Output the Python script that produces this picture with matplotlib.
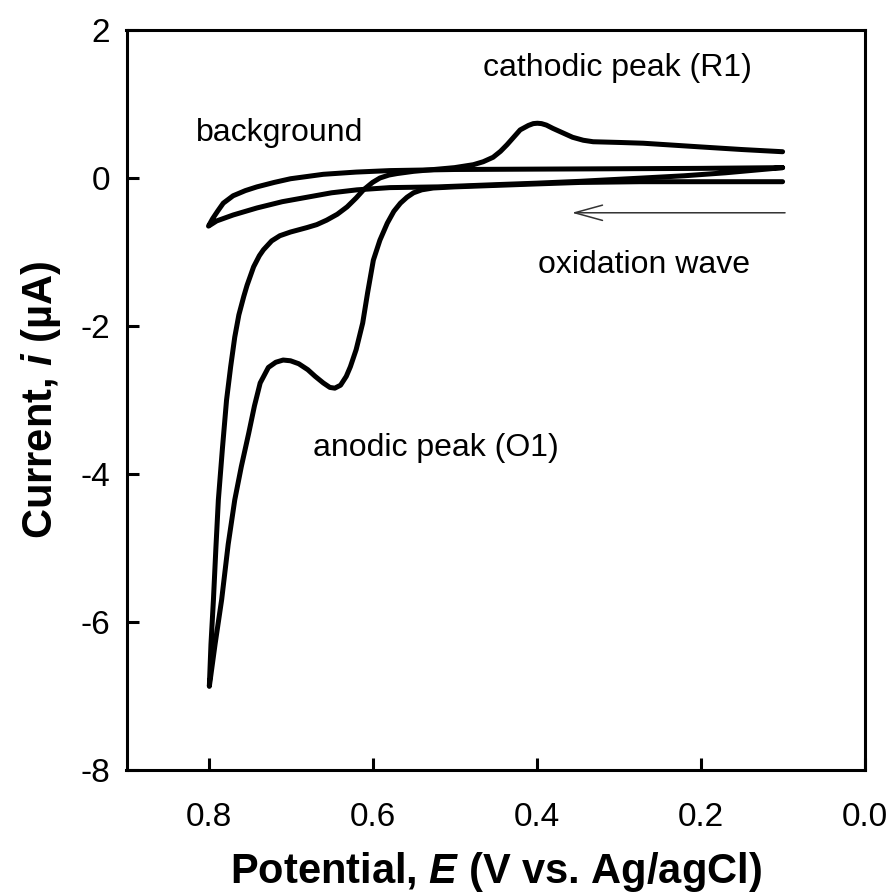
import matplotlib
matplotlib.use("Agg")
import matplotlib.pyplot as plt

plt.rcParams['font.family'] = ['Liberation Sans', 'DejaVu Sans']
plt.rcParams['mathtext.fontset'] = 'custom'
plt.rcParams['mathtext.it'] = 'Liberation Sans:italic:bold'
plt.rcParams['mathtext.rm'] = 'Liberation Sans:bold'
plt.rcParams['mathtext.bf'] = 'Liberation Sans:bold'

# ---- data ----
# main CV, forward (anodic) scan 0.1 -> 0.8 V
fwd_E = [0.10, 0.20, 0.274, 0.347, 0.40, 0.45, 0.50, 0.526, 0.540, 0.550, 0.558,
         0.566, 0.574, 0.582, 0.591, 0.599, 0.606, 0.612, 0.620, 0.627, 0.632,
         0.639, 0.646, 0.652, 0.660, 0.670, 0.679, 0.690, 0.700, 0.709, 0.718,
         0.727, 0.737, 0.744, 0.751, 0.760, 0.768, 0.776, 0.784, 0.792, 0.799]
fwd_i = [-0.05, -0.05, -0.05, -0.06, -0.08, -0.10, -0.12, -0.135, -0.16, -0.20, -0.26,
         -0.34, -0.45, -0.61, -0.84, -1.11, -1.55, -1.96, -2.32, -2.55, -2.68,
         -2.80, -2.84, -2.83, -2.77, -2.68, -2.59, -2.51, -2.47, -2.46, -2.49,
         -2.56, -2.77, -3.08, -3.45, -3.90, -4.35, -4.95, -5.70, -6.30, -6.87]

# main CV, reverse (cathodic) scan 0.8 -> 0.1 V
rev_E = [0.799, 0.797, 0.794, 0.791, 0.788, 0.783, 0.778, 0.773, 0.768, 0.763,
         0.757, 0.753, 0.745, 0.738, 0.733, 0.723, 0.713, 0.700, 0.690, 0.680,
         0.668, 0.656, 0.643, 0.631, 0.620, 0.611, 0.600, 0.591, 0.580, 0.570,
         0.550, 0.520, 0.500, 0.477, 0.465, 0.453, 0.444, 0.436, 0.428, 0.420,
         0.410, 0.404, 0.399, 0.394, 0.388, 0.380, 0.368, 0.356, 0.343, 0.331,
         0.298, 0.270, 0.200, 0.150, 0.100]
rev_i = [-6.87, -6.30, -5.70, -5.00, -4.35, -3.65, -3.00, -2.55, -2.15, -1.85,
         -1.60, -1.45, -1.20, -1.05, -0.97, -0.85, -0.78, -0.73, -0.70, -0.67,
         -0.63, -0.57, -0.49, -0.39, -0.27, -0.16, -0.06, 0.00, 0.04, 0.06,
         0.09, 0.12, 0.14, 0.18, 0.22, 0.28, 0.36, 0.45, 0.55, 0.65,
         0.71, 0.735, 0.74, 0.735, 0.715, 0.67, 0.61, 0.55, 0.51, 0.49,
         0.48, 0.47, 0.42, 0.385, 0.355]

# background loop
bg_E = [0.10, 0.20, 0.30, 0.40, 0.50, 0.579, 0.620, 0.660, 0.680, 0.700, 0.720,
        0.741, 0.755, 0.770, 0.782, 0.789, 0.795, 0.800,
        0.790, 0.770, 0.741, 0.710, 0.680, 0.650, 0.619, 0.579, 0.520, 0.450,
        0.400, 0.347, 0.322, 0.270, 0.220, 0.170, 0.130, 0.100]
bg_i = [0.14, 0.13, 0.125, 0.12, 0.115, 0.10, 0.08, 0.05, 0.02, -0.01, -0.06,
        -0.12, -0.17, -0.24, -0.34, -0.45, -0.55, -0.65,
        -0.58, -0.50, -0.405, -0.32, -0.26, -0.20, -0.16, -0.13, -0.12, -0.09,
        -0.07, -0.045, -0.03, 0.00, 0.03, 0.07, 0.11, 0.14]

x_ticks = [0.8, 0.6, 0.4, 0.2, 0.0]
x_ticklabels = ['0.8', '0.6', '0.4', '0.2', '0.0']
y_ticks = [2, 0, -2, -4, -6, -8]
y_ticklabels = ['2', '0', '-2', '-4', '-6', '-8']

# ---- figure ----
fig = plt.figure(figsize=(8.91, 8.94), dpi=100)
ax = fig.add_axes([126.5 / 891, 1 - 770 / 894, (864.6 - 126.5) / 891, 740 / 894])

lw = 3.6
ax.plot(fwd_E + rev_E, fwd_i + rev_i, color='black', lw=lw, solid_joinstyle='round',
        solid_capstyle='round')
ax.plot(bg_E, bg_i, color='black', lw=lw, solid_joinstyle='round', solid_capstyle='round')

ax.set_xlim(0.9, 0.0)
ax.set_ylim(-8, 2)
ax.set_xticks(x_ticks)
ax.set_xticklabels(x_ticklabels)
ax.set_yticks(y_ticks)
ax.set_yticklabels(y_ticklabels)
ax.tick_params(direction='in', length=8.6, width=2.2, labelsize=24, pad=12)
ax.tick_params(axis='x', pad=23)
for s in ax.spines.values():
    s.set_linewidth(2.2)

ax.set_xlabel('Potential, $E$ (V vs. Ag/agCl)', fontsize=30, fontweight='bold', labelpad=12)
ax.set_ylabel('Current, $i$ (µA)', fontsize=30, fontweight='bold', labelpad=12)

fs = 23
ax.text(0.3017, 1.486, 'cathodic peak (R1)', fontsize=fs, ha='center', va='center')
ax.text(0.7133, 0.608, 'background', fontsize=fs, ha='center', va='center')
ax.text(0.2695, -1.176, 'oxidation wave', fontsize=fs, ha='center', va='center')
ax.text(0.523, -3.65, 'anodic peak (O1)', fontsize=fs, ha='center', va='center')

ax.annotate('', xy=(0.357, -0.47), xytext=(0.097, -0.47),
            arrowprops=dict(arrowstyle='->,head_length=2.0,head_width=0.55',
                            lw=1.1, color='#333333', shrinkA=0, shrinkB=0))

fig.savefig('out.png', dpi=100)
